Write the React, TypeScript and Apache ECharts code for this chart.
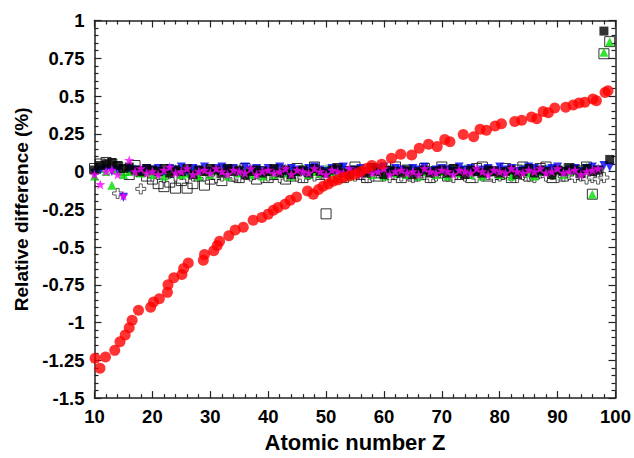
import React, { useEffect, useRef } from "react";
import * as echarts from "echarts";

// Atomic numbers for the clustered series
const zList = [
  10, 11, 12, 13, 14, 15, 16, 17, 18, 19,
  20, 21, 22, 23, 24, 25, 26, 27, 28, 29,
  30, 31, 32, 33, 34, 35, 36, 37, 38, 39,
  40, 41, 42, 43, 44, 45, 46, 47, 48, 49,
  50, 51, 52, 53, 54, 55, 56, 57, 58, 59,
  60, 61, 62, 63, 64, 65, 66, 67, 68, 69,
  70, 71, 72, 73, 74, 75, 76, 77, 78, 79,
  80, 81, 82, 83, 84, 85, 86, 87, 88, 89,
  90, 91, 92, 93, 94, 95, 96, 97, 98, 99,
];

const openSquares = [
  0.02, 0.05, 0.06, 0.05, 0.03, 0.01, -0.02, 0.04, 0.0, -0.03,
  -0.05, -0.08, -0.1, -0.07, -0.11, -0.06, -0.11, -0.08, -0.03, -0.09,
  -0.05, -0.02, -0.06, 0.01, -0.03, -0.04, 0.02, -0.02, -0.05, 0.0,
  -0.04, -0.02, 0.01, -0.05, -0.03, 0.02, -0.04, -0.01, 0.03, -0.02,
  -0.28, -0.03, 0.02, -0.04, 0.0, 0.03, -0.02, -0.04, 0.02, -0.03,
  0.0, -0.02, 0.03, -0.04, 0.01, -0.03, -0.02, 0.02, -0.04, 0.0,
  0.03, -0.03, 0.01, -0.02, 0.0, -0.04, 0.02, 0.03, -0.03, 0.0,
  -0.02, 0.02, -0.04, 0.01, 0.03, -0.03, -0.01, 0.02, 0.03, -0.04,
  0.0, -0.03, 0.02, 0.01, -0.02, 0.03, -0.15, 0.0, 0.78, 0.86,
];

const filledSquares = [
  0.01, 0.04, 0.05, 0.06, 0.04, 0.02, 0.03, 0.01, 0.0, 0.02,
  0.01, 0.0, 0.02, -0.01, 0.01, 0.0, 0.02, -0.02, 0.01, 0.0,
  0.02, 0.01, -0.01, 0.02, 0.0, 0.01, -0.02, 0.0, 0.01, -0.01,
  0.0, 0.02, -0.01, 0.01, -0.02, 0.0, 0.01, -0.01, 0.02, 0.0,
  -0.01, 0.01, 0.02, -0.01, -0.02, 0.01, 0.0, -0.01, 0.02, 0.0,
  -0.02, 0.01, 0.0, -0.01, 0.01, -0.02, 0.0, 0.01, -0.01, 0.0,
  0.01, -0.01, 0.02, 0.0, -0.02, 0.01, 0.0, -0.01, 0.01, 0.0,
  -0.01, 0.0, 0.01, -0.02, 0.0, 0.02, -0.01, 0.01, 0.0, -0.02,
  0.01, 0.0, 0.02, 0.01, -0.01, 0.02, 0.0, 0.01, 0.93, 0.08,
];

const openCrosses = [
  null, null, null, null, -0.145, null, null, null, -0.115, null,
  -0.03, -0.02, -0.04, -0.01, -0.03, -0.02, -0.04, -0.03, -0.01, -0.03,
  -0.02, -0.04, -0.03, -0.01, -0.03, -0.04, -0.02, -0.03, -0.01, -0.04,
  -0.03, -0.02, -0.04, -0.03, -0.01, -0.03, -0.04, -0.02, -0.03, -0.01,
  -0.04, -0.03, -0.02, -0.04, -0.01, -0.03, -0.02, -0.04, -0.03, -0.01,
  -0.03, -0.04, -0.02, -0.03, -0.01, -0.04, -0.03, -0.02, -0.04, -0.03,
  -0.01, -0.03, -0.04, -0.02, -0.03, -0.01, -0.04, -0.03, -0.02, -0.04,
  -0.03, -0.01, -0.03, -0.04, -0.02, -0.03, -0.04, -0.01, -0.03, -0.02,
  -0.04, -0.03, -0.02, -0.04, -0.03, -0.05, -0.04, -0.05, -0.04, null,
];

const greenTriangles = [
  -0.03, 0.02, 0.0, -0.09, 0.01, -0.02, 0.0, 0.02, -0.01, 0.0,
  -0.02, 0.01, -0.03, 0.0, 0.02, -0.02, -0.01, 0.01, -0.03, 0.0,
  -0.02, 0.01, 0.0, -0.03, 0.02, -0.01, 0.0, -0.02, 0.01, -0.03,
  0.0, -0.02, 0.01, -0.01, -0.03, 0.0, 0.02, -0.02, 0.0, -0.01,
  0.02, 0.0, -0.02, 0.01, -0.03, 0.0, -0.01, 0.02, -0.02, 0.0,
  -0.03, 0.01, -0.01, 0.0, -0.02, 0.02, -0.03, 0.0, 0.01, -0.02,
  0.0, -0.03, 0.01, -0.01, 0.02, -0.02, 0.0, -0.03, 0.01, 0.0,
  -0.02, 0.01, -0.03, 0.0, 0.02, -0.01, -0.03, 0.0, 0.02, -0.02,
  0.01, -0.02, 0.0, 0.02, 0.01, 0.03, -0.15, 0.02, 0.79, 0.86,
];

const blueTriangles = [
  -0.01, 0.01, 0.02, 0.0, 0.01, -0.17, 0.02, 0.01, 0.0, 0.02,
  0.01, 0.02, 0.0, 0.02, 0.01, 0.03, 0.0, 0.02, 0.01, 0.03,
  0.0, 0.02, 0.03, 0.01, 0.02, 0.0, 0.03, 0.01, 0.02, 0.0,
  0.02, 0.01, 0.03, 0.0, 0.02, 0.01, 0.0, 0.02, 0.03, 0.01,
  0.0, 0.02, 0.01, 0.03, 0.0, 0.01, 0.02, 0.0, 0.01, 0.02,
  0.03, 0.0, 0.02, 0.01, 0.0, 0.02, 0.01, 0.03, 0.0, 0.01,
  0.02, 0.01, 0.0, 0.03, 0.01, 0.02, 0.0, 0.01, 0.02, 0.0,
  0.03, 0.01, 0.02, 0.0, 0.01, 0.03, 0.02, 0.0, 0.01, 0.02,
  0.03, 0.0, 0.01, 0.02, 0.0, 0.02, 0.03, 0.01, 0.04, 0.03,
];

const magentaStars = [
  -0.02, -0.085, 0.0, 0.01, -0.02, -0.16, 0.075, 0.0, 0.02, -0.01,
  0.0, -0.02, 0.01, 0.03, -0.01, 0.0, 0.02, -0.02, 0.0, 0.01,
  -0.01, 0.02, 0.0, -0.02, 0.01, 0.0, -0.01, 0.02, -0.02, 0.0,
  0.01, -0.01, 0.0, 0.02, -0.02, 0.01, 0.0, -0.01, 0.02, 0.0,
  -0.02, 0.01, 0.0, -0.01, 0.02, 0.0, -0.02, 0.01, -0.01, 0.0,
  0.02, -0.02, 0.0, 0.01, -0.01, 0.0, -0.02, 0.02, 0.0, -0.01,
  0.01, 0.0, -0.02, 0.01, 0.0, -0.01, 0.02, 0.0, -0.02, 0.01,
  0.0, -0.01, 0.02, 0.0, -0.01, 0.01, 0.0, 0.02, -0.01, 0.0,
  0.02, -0.01, 0.0, 0.01, -0.02, 0.0, 0.01, 0.02, null, null,
];

// Red filled circles (read positions)
const redZ = [
  10.1, 10.95, 11.9, 13.5, 14.4, 15.3, 16.0, 16.5, 17.6, 19.7,
  20.2, 21.2, 22.6, 22.7, 23.7, 25.1, 25.4, 26.2, 28.8, 29.0,
  30.6, 31.2, 31.6, 33.2, 34.3, 35.7, 37.4, 38.9, 40.0, 40.9,
  41.7, 42.9, 43.8, 44.9, 46.8, 47.8, 48.7, 49.5, 50.4, 51.2,
  52.1, 53.0, 54.0, 55.0, 56.0, 57.0, 57.9, 59.6, 61.3, 62.9,
  64.8, 66.1, 67.7, 69.2, 70.5, 71.4, 73.7, 75.5, 76.6, 77.7,
  79.2, 80.3, 82.6, 83.8, 85.5, 86.4, 87.5, 88.4, 89.5, 91.4,
  92.7, 93.7, 94.7, 96.1, 96.7, 98.2, 98.7,
];
const redV = [
  -1.236, -1.302, -1.228, -1.184, -1.127, -1.082, -1.034, -0.984, -0.918, -0.899,
  -0.864, -0.842, -0.8, -0.75, -0.703, -0.681, -0.642, -0.605, -0.587, -0.55,
  -0.524, -0.489, -0.461, -0.425, -0.387, -0.369, -0.322, -0.304, -0.282, -0.256,
  -0.238, -0.217, -0.19, -0.169, -0.129, -0.151, -0.119, -0.097, -0.082, -0.064,
  -0.054, -0.038, -0.03, -0.018, 0.0, 0.02, 0.04, 0.049, 0.088, 0.114,
  0.11, 0.154, 0.18, 0.165, 0.212, 0.197, 0.245, 0.23, 0.28, 0.273,
  0.302, 0.317, 0.332, 0.339, 0.361, 0.35, 0.397, 0.389, 0.42, 0.426,
  0.441, 0.454, 0.459, 0.48, 0.469, 0.524, 0.535,
];

const STAR =
  "path://M50 0L61.8 33.8L97.6 34.5L69 56.2L79.4 90.5L50 70L20.6 90.5L31 56.2L2.4 34.5L38.2 33.8Z";
const PLUS = "path://M35 0H65V35H100V65H65V100H35V65H0V35H35Z";

const FONT = "'Liberation Sans', Arial, Helvetica, sans-serif";

function pairs(zs: number[], vs: (number | null)[]) {
  const out: number[][] = [];
  zs.forEach((z, i) => {
    const v = vs[i];
    if (v !== null && v !== undefined) out.push([z, v]);
  });
  return out;
}

export default function App() {
  const ref = useRef<HTMLDivElement>(null);
  useEffect(() => {
    if (!ref.current) return;
    const chart = echarts.init(ref.current, undefined, { renderer: "svg" });
    const lineStyle = { color: "#222", width: 1.5 };
    const tickStyle = { color: "#222", width: 1.2 };
    const labelStyle = {
      fontSize: 18.5,
      fontWeight: "bold" as const,
      color: "#000",
      fontFamily: FONT,
    };
    const common = {
      type: "value" as const,
      axisLine: { show: true, onZero: false, lineStyle },
      axisTick: { show: true, inside: true, length: 7, lineStyle: tickStyle },
      minorTick: { show: true, splitNumber: 5, length: 4, lineStyle: tickStyle },
      splitLine: { show: false },
      minorSplitLine: { show: false },
    };
    chart.setOption({
      animation: false,
      backgroundColor: "#fff",
      grid: { left: 94.5, right: 18.5, top: 20.5, bottom: 55 },
      xAxis: [
        {
          ...common,
          min: 10,
          max: 100,
          interval: 10,
          position: "bottom",
          axisLabel: { ...labelStyle, margin: 9 },
          name: "Atomic number Z",
          nameLocation: "middle",
          nameGap: 24,
          nameTextStyle: {
            fontSize: 22,
            fontWeight: "bold",
            color: "#000",
            fontFamily: FONT,
          },
        },
        {
          ...common,
          min: 10,
          max: 100,
          interval: 10,
          position: "top",
          axisLabel: { show: false },
        },
      ],
      yAxis: [
        {
          ...common,
          min: -1.5,
          max: 1,
          interval: 0.25,
          position: "left",
          axisLabel: { ...labelStyle, margin: 10 },
          name: "Relative difference (%)",
          nameLocation: "middle",
          nameRotate: 90,
          nameGap: 63,
          nameTextStyle: {
            fontSize: 19,
            fontWeight: "bold",
            color: "#000",
            fontFamily: FONT,
          },
        },
        {
          ...common,
          min: -1.5,
          max: 1,
          interval: 0.25,
          position: "right",
          axisLabel: { show: false },
        },
      ],
      series: [
        {
          type: "scatter",
          data: pairs(zList, openSquares),
          symbol: "rect",
          symbolSize: 10,
          itemStyle: { color: "rgba(0,0,0,0)", borderColor: "#000", borderWidth: 1 },
        },
        {
          type: "scatter",
          data: pairs(zList, openCrosses),
          symbol: PLUS,
          symbolSize: 10,
          itemStyle: { color: "#fff", borderColor: "#000", borderWidth: 0.8 },
        },
        {
          type: "scatter",
          data: pairs(zList, greenTriangles),
          symbol: "triangle",
          symbolSize: 9,
          itemStyle: { color: "#00dd00" },
        },
        {
          type: "scatter",
          data: pairs(zList, blueTriangles),
          symbol: "triangle",
          symbolRotate: 180,
          symbolSize: 9,
          itemStyle: { color: "#0000ee" },
        },
        {
          type: "scatter",
          data: pairs(zList, filledSquares),
          symbol: "rect",
          symbolSize: 9,
          itemStyle: { color: "#000" },
        },
        {
          type: "scatter",
          data: pairs(zList, magentaStars),
          symbol: STAR,
          symbolSize: 10,
          itemStyle: { color: "#ff00ff" },
        },
        {
          type: "scatter",
          data: pairs(redZ, redV),
          symbol: "circle",
          symbolSize: 11,
          itemStyle: { color: "#ff0000" },
        },
      ],
    });
    return () => chart.dispose();
  }, []);
  return (
    <div
      ref={ref}
      style={{ position: "fixed", left: 0, top: 0, width: 634, height: 458 }}
    />
  );
}
